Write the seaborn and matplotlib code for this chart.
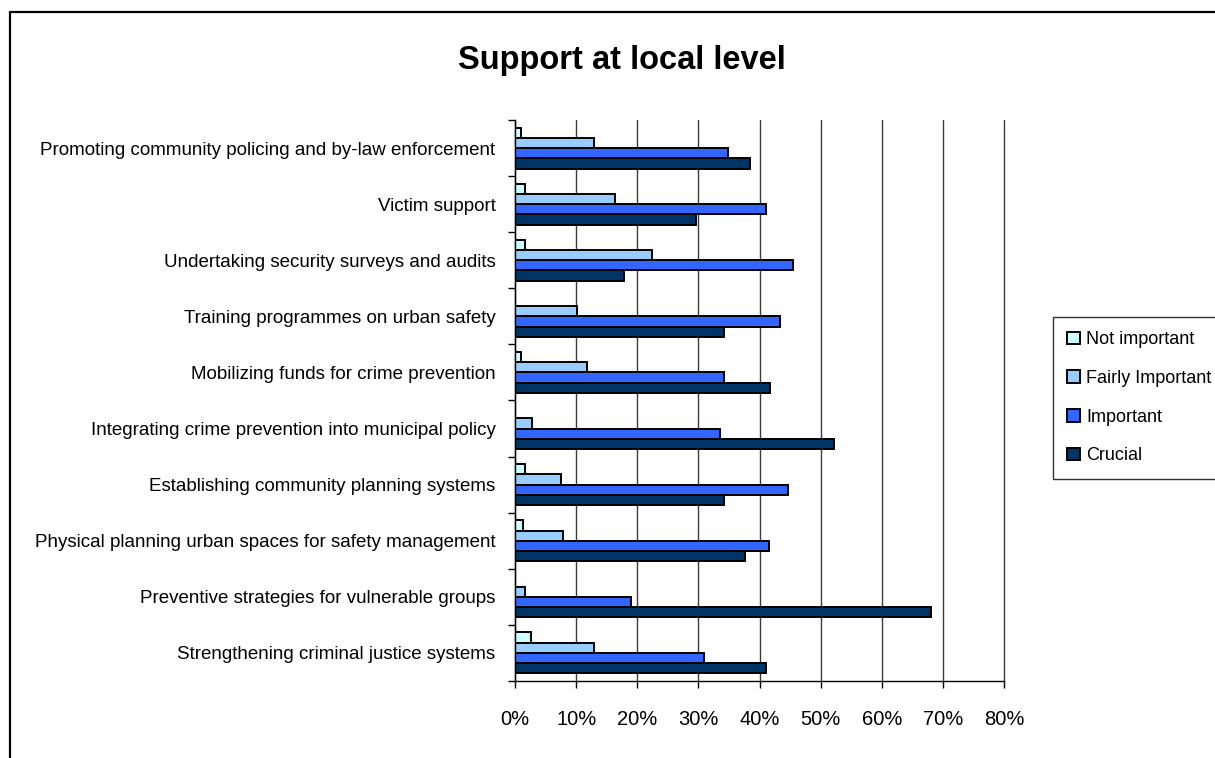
import numpy as np
import pandas as pd
import matplotlib
matplotlib.use("Agg")
import matplotlib.pyplot as plt
from matplotlib.lines import Line2D
from matplotlib.ticker import FixedLocator, PercentFormatter
import seaborn as sns

# --- data -------------------------------------------------------------
categories = [
    "Promoting community policing and by-law enforcement",
    "Victim support",
    "Undertaking security surveys and audits",
    "Training programmes on urban safety",
    "Mobilizing funds for crime prevention",
    "Integrating crime prevention into municipal policy",
    "Establishing community planning systems",
    "Physical planning urban spaces for safety management",
    "Preventive strategies for vulnerable groups",
    "Strengthening criminal justice systems",
]
levels = ["Not important", "Fairly Important", "Important", "Crucial"]

not_important = [1.0, 1.6, 1.6, 0.0, 1.0, 0.0, 1.6, 1.3, 0.0, 2.6]
fairly_important = [13.0, 16.3, 22.4, 10.1, 11.7, 2.8, 7.5, 7.8, 1.6, 13.0]
important = [34.8, 41.0, 45.5, 43.3, 34.2, 33.6, 44.6, 41.6, 18.9, 30.9]
crucial = [38.4, 29.6, 17.9, 34.2, 41.7, 52.2, 34.2, 37.7, 68.0, 41.0]

level_colors = ["#CCFFFF", "#99CCFF", "#3366FF", "#003366"]
x_ticks = [0, 10, 20, 30, 40, 50, 60, 70, 80]
title = "Support at local level"

# --- styling ------------------------------------------------------------
W, H = 1215, 758
sns.set_theme(style="white")

family = ["Liberation Sans", "DejaVu Sans"]
label_size, tick_size, title_size, legend_size = 13.5, 14.5, 23.5, 13
plt.rcParams["font.family"] = family
plt.rcParams["text.color"] = "black"
plt.rcParams["xtick.color"] = "black"
plt.rcParams["ytick.color"] = "black"

wide = pd.DataFrame(
    {
        levels[0]: not_important,
        levels[1]: fairly_important,
        levels[2]: important,
        levels[3]: crucial,
    },
    index=pd.Index(categories, name="category"),
)
long = wide.reset_index().melt(id_vars="category", var_name="level", value_name="share")

fig = plt.figure(figsize=(W / 100, H / 100), dpi=100)
ax = fig.add_axes([515 / W, 1 - 681 / H, (1004 - 515) / W, (681 - 120) / H])

sns.barplot(
    data=long,
    x="share",
    y="category",
    hue="level",
    order=categories,
    hue_order=levels,
    palette=level_colors,
    saturation=1,
    orient="h",
    width=0.73,
    errorbar=None,
    edgecolor="black",
    linewidth=1.4,
    ax=ax,
)

ax.set_xlim(0, 80)
ax.set_ylim(len(categories) - 0.5, -0.5)
ax.xaxis.set_major_locator(FixedLocator(x_ticks))
ax.xaxis.set_major_formatter(PercentFormatter(100, decimals=0))
ax.set_xlabel("")
ax.set_ylabel("")

ax.grid(axis="x", color="#3a3a3a", linewidth=1)
ax.grid(axis="y", visible=False)
ax.set_axisbelow(True)
for gl in ax.get_xgridlines():
    gl.set_clip_on(False)

for side in ("top", "right"):
    ax.spines[side].set_visible(False)
for side in ("left", "bottom"):
    ax.spines[side].set_color("black")
    ax.spines[side].set_linewidth(1)

# category ticks sit on the boundaries between groups
ax.yaxis.set_minor_locator(FixedLocator(np.arange(-0.5, len(categories), 1)))
ax.tick_params(axis="y", which="major", length=0, pad=14, labelsize=label_size)
ax.tick_params(axis="y", which="minor", length=5, width=1, direction="out", left=True)
ax.tick_params(axis="x", which="major", length=5, width=1, direction="out",
               bottom=True, pad=16, labelsize=tick_size)

fig.text(622 / W, 1 - 61 / H, title, ha="center", va="center",
         fontsize=title_size, fontweight="bold")

sns.move_legend(
    ax, "upper left",
    bbox_to_anchor=(1053 / W, 1 - 317 / H),
    bbox_transform=fig.transFigure,
    title=None,
    frameon=True,
    fancybox=False,
    fontsize=legend_size,
    handlelength=0.7,
    handleheight=0.7,
    handletextpad=0.35,
    labelspacing=1.2,
    borderpad=0.8,
    borderaxespad=0,
)
leg = ax.get_legend()
leg.get_frame().set_edgecolor("black")
leg.get_frame().set_linewidth(1)
for patch in leg.get_patches():
    patch.set_edgecolor("black")
    patch.set_linewidth(1.4)

# chart-area border (left and top edges)
fig.add_artist(Line2D([10 / W, 10 / W], [1 - 12 / H, 0], transform=fig.transFigure,
                      color="black", linewidth=1.6))
fig.add_artist(Line2D([10 / W, 1], [1 - 12 / H, 1 - 12 / H], transform=fig.transFigure,
                      color="black", linewidth=1.6))

fig.savefig("out.png", dpi=100)
